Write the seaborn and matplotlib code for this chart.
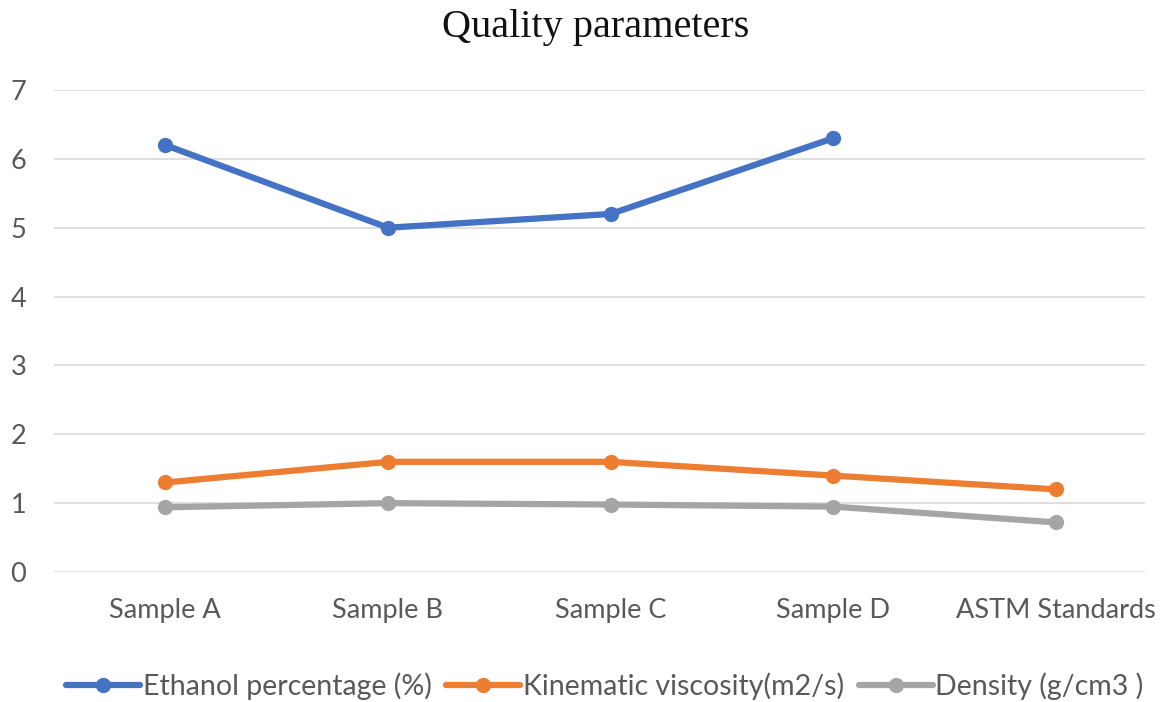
import pandas as pd
import matplotlib.pyplot as plt
import seaborn as sns

# data
samples = ['Sample A', 'Sample B', 'Sample C', 'Sample D', 'ASTM Standards']
ethanol = [6.2, 5.0, 5.2, 6.3, None]
viscosity = [1.3, 1.6, 1.6, 1.4, 1.2]
density = [0.94, 1.0, 0.98, 0.95, 0.72]
series_names = ['Ethanol percentage (%)', 'Kinematic viscosity(m2/s)', 'Density (g/cm3 )']
colors = ['#4472C4', '#ED7D31', '#A5A5A5']

rows = []
for name, vals in zip(series_names, [ethanol, viscosity, density]):
    for i, (s, v) in enumerate(zip(samples, vals)):
        if v is not None:
            rows.append({'pos': i, 'Sample': s, 'value': v, 'series': name})
data = pd.DataFrame(rows)

sns.set_style('white')
plt.rcParams['font.family'] = ['Lato', 'DejaVu Sans']

fig = plt.figure(figsize=(11.6, 7.02), dpi=100)
ax = fig.add_axes([54 / 1160, 130 / 702, (1145 - 54) / 1160, 482 / 702])

sns.lineplot(data=data, x='pos', y='value', hue='series', hue_order=series_names,
             palette=colors, marker='o', markersize=11, markeredgewidth=0,
             linewidth=4.5, ax=ax, legend=True)

ax.set_xlim(-0.5, 4.4)
ax.set_ylim(0, 7)
ax.set_yticks(range(0, 8))
ax.set_xticks(range(len(samples)))
ax.set_xticklabels(samples)
ax.grid(axis='y', color='#D9D9D9', linewidth=1.2)
ax.set_axisbelow(True)
for sp in ax.spines.values():
    sp.set_visible(False)
ax.tick_params(axis='both', length=0, labelsize=19.5, labelcolor='#595959')
ax.tick_params(axis='x', pad=19)
ax.tick_params(axis='y', pad=20)
ax.set_xlabel('')
ax.set_ylabel('')

fig.text(596 / 1160, 1 - 28 / 702, 'Quality parameters', ha='center', va='center',
         fontsize=29, family='Liberation Serif', color='#111111')

handles, labels = ax.get_legend_handles_labels()
ax.get_legend().remove()
fig.legend(handles, labels, loc='center', bbox_to_anchor=(605 / 1160, 1 - 686 / 702), ncol=3,
           frameon=False, fontsize=20.5, handlelength=2.6, handletextpad=0.1,
           columnspacing=0.5, labelcolor='#595959')

fig.savefig('out.png', dpi=100)
